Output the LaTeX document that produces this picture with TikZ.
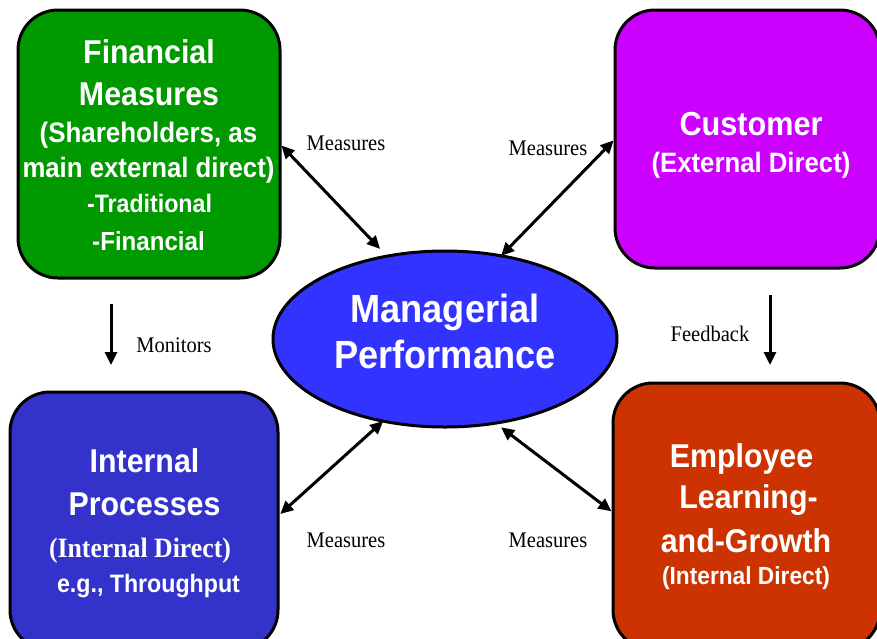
\documentclass[tikz,border=0pt]{standalone}
\usepackage{fontspec}
\usetikzlibrary{arrows.meta,shapes.geometric}
\newfontfamily\hvf[FakeStretch=0.92]{Liberation Sans}
\newfontfamily\tmf[FakeStretch=0.92]{Liberation Serif}
\definecolor{cgreen}{RGB}{0,153,0}
\definecolor{cmag}{RGB}{204,0,255}
\definecolor{cblue}{RGB}{51,51,204}
\definecolor{cred}{RGB}{204,51,0}
\definecolor{cell}{RGB}{51,51,255}
\tikzset{
  box/.style={draw=black,line width=3pt,rounded corners=40pt,inner sep=0pt,outer sep=0pt},
  tx/.style={text=white,anchor=base,inner sep=0pt,font=\hvf\bfseries\fontsize{#1}{#1}\selectfont},
  tb/.style={text=white,anchor=base,inner sep=0pt,font=\tmf\bfseries\fontsize{#1}{#1}\selectfont},
  lab/.style={text=black,anchor=base,inner sep=0pt,font=\tmf\fontsize{22.3}{22.3}\selectfont},
  arr/.style={line width=3pt,-{Triangle[length=13pt,width=12pt]}},
  darr/.style={line width=3pt,{Triangle[length=13pt,width=12pt]}-{Triangle[length=13pt,width=12pt]}}
}
\begin{document}
\begin{tikzpicture}[x=1pt,y=-1pt]
\useasboundingbox (0,0) rectangle (877,638);
\clip (0,0) rectangle (877,638);
% boxes
\node[box,fill=cgreen,minimum width=262pt,minimum height=268pt] (g) at (149,144) {};
\node[box,fill=cmag,minimum width=265pt,minimum height=258pt] (c) at (747.5,139) {};
\node[box,fill=cblue,minimum width=268pt,minimum height=258pt] (b) at (144,521) {};
\node[box,fill=cred,minimum width=267pt,minimum height=267pt] (r) at (746.5,516.5) {};
\node[draw=black,line width=3pt,fill=cell,ellipse,minimum width=344pt,minimum height=176pt,inner sep=0pt,outer sep=0pt] (mp) at (445,339) {};
% green text
\node[tx=33] (g1) at (149,63) {Financial};
\node[tx=33] (g2) at (149,105) {Measures};
\node[tx=28.2] (g3) at (148.5,142) {(Shareholders, as};
\node[tx=28] (g4) at (148.5,177) {main external direct)};
\node[tx=25.2] (g5) at (149.5,212) {-Traditional};
\node[tx=26.2] (g6) at (148.5,250) {-Financial};
% customer text
\node[tx=33.3] (c1) at (751,135) {Customer};
\node[tx=28] (c2) at (751,172) {(External Direct)};
% internal text
\node[tx=33] (b1) at (144.5,472) {Internal};
\node[tx=33] (b2) at (144.5,515) {Processes};
\node[tb=28] (b3) at (140,557) {(Internal Direct)};
\node[tx=25.2] (b4) at (148.5,592) {e.g., Throughput};
% employee text
\node[tx=33] (r1) at (741.5,467) {Employee};
\node[tx=33] (r2) at (748.5,508) {Learning-};
\node[tx=33] (r3) at (746,552) {and-Growth};
\node[tx=24.7] (r4) at (746,584) {(Internal Direct)};
% ellipse text
\node[tx=39.3] (m1) at (445,322) {Managerial};
\node[tx=39.3] (m2) at (445,368) {Performance};
% labels
\node[lab] (l1) at (346,150) {Measures};
\node[lab] (l2) at (548,155) {Measures};
\node[lab] (l3) at (346,547) {Measures};
\node[lab] (l4) at (548,547) {Measures};
\node[lab] (l5) at (174,352) {Monitors};
\node[lab] (l6) at (710,341) {Feedback};
% connectors
\draw[darr,shorten >=10pt,shorten <=2pt] (g.east) -- (mp.125);
\draw[darr,shorten <=2pt] (c.west) -- (mp.56);
\draw[darr,shorten <=3pt] ([yshift=5pt]b.east) -- (mp.233);
\draw[darr,shorten <=7pt,shorten >=2pt] (mp.301) -- ([yshift=4pt]r.west);
\coordinate (ma) at (111,304);
\coordinate (mb) at (111,365);
\coordinate (fa) at (770,295);
\coordinate (fb) at (770,365);
\draw[arr] (ma) -- (mb);
\draw[arr] (fa) -- (fb);
\end{tikzpicture}
\end{document}
